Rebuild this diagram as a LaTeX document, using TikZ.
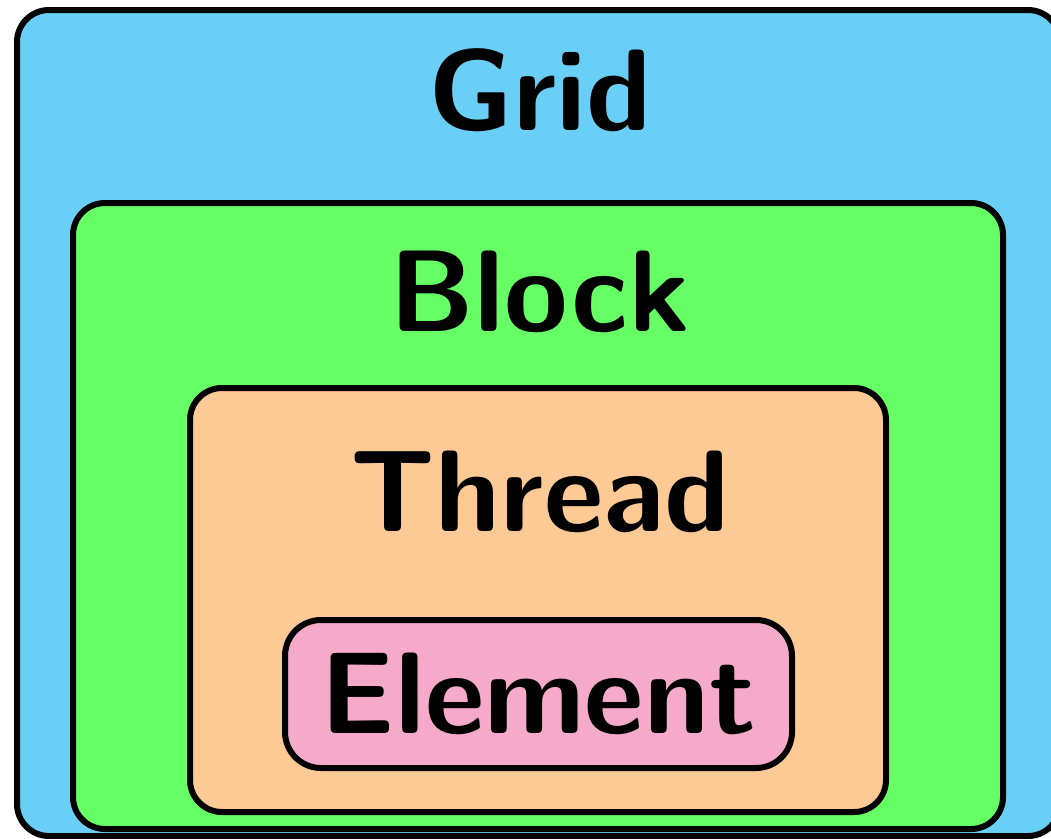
\documentclass[tikz,border=0pt]{standalone}
\usetikzlibrary{positioning}
\definecolor{gridblue}{RGB}{106,207,246}
\definecolor{blockgreen}{RGB}{102,255,102}
\definecolor{threadorange}{RGB}{253,202,150}
\definecolor{elempink}{RGB}{245,170,202}
\tikzset{
  level/.style={draw=black, line width=6pt, rounded corners=32pt},
  label/.style={font=\fontsize{116}{134}\selectfont\sffamily\bfseries, inner sep=0pt}
}
\begin{document}
\begin{tikzpicture}[x=1pt,y=-1pt]
			\useasboundingbox (0,0) rectangle (1051,838);
			\draw[level, fill=gridblue] (17,10) rectangle (1060,836);
			\node[label] (grid) at (540,90) {Grid};
			\draw[level, fill=blockgreen] (73,203) rectangle (1003,829);
			\node[label] (block) at (540,292) {Block};
			\draw[level, fill=threadorange] (190,388) rectangle (886,812);
			\node[label] (thread) at (540,492) {Thread};
			\node[label, level, fill=elempink, rounded corners=36pt, minimum width=507pt, minimum height=148pt] (element) at (538.5,694) {Element};
		\end{tikzpicture}
\end{document}
